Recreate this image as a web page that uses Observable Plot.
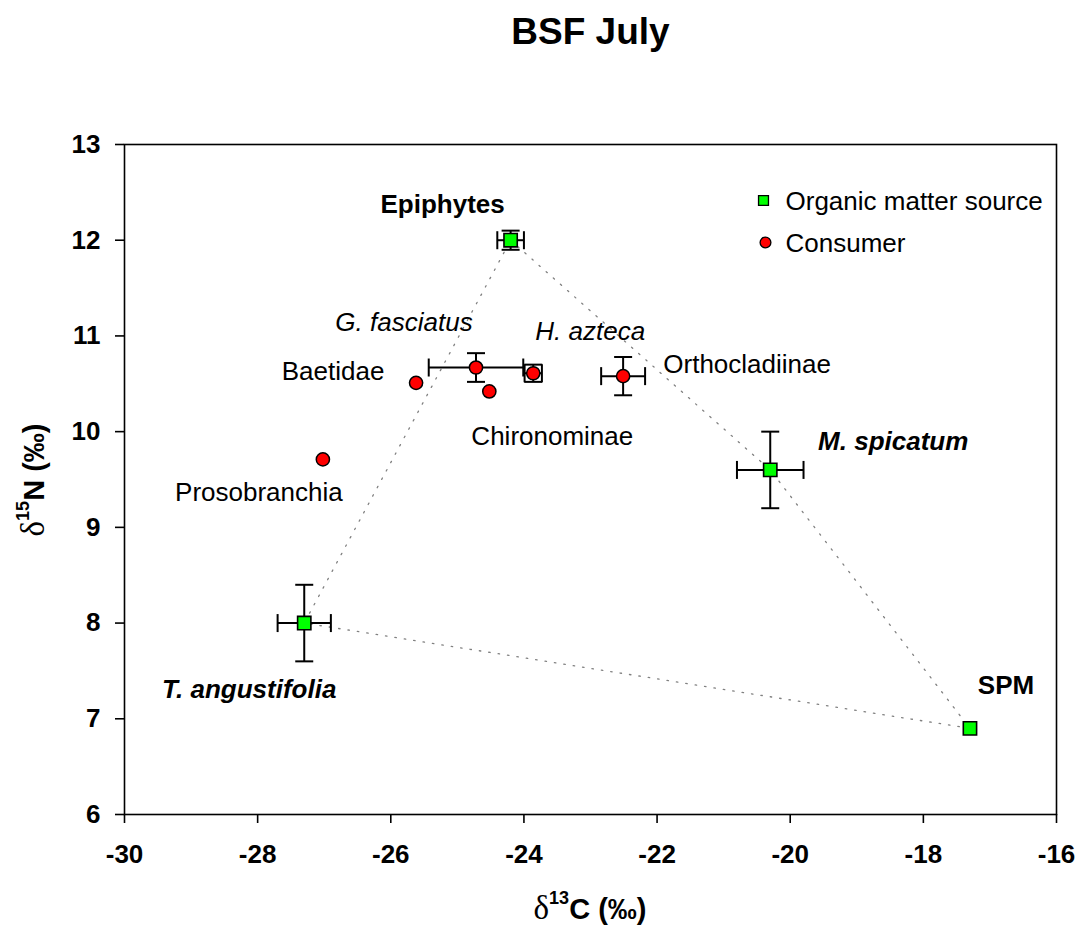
<!DOCTYPE html>
<html>
<head>
<meta charset="utf-8">
<script src="https://cdn.jsdelivr.net/npm/d3@7"></script>
<script src="https://cdn.jsdelivr.net/npm/@observablehq/plot@0.6"></script>
<style>
  html, body { margin: 0; padding: 0; background: #fff; }
  #chart svg { display: block; }
</style>
</head>
<body>
<div id="chart"></div>
<script>
// ---------- data ----------
const chartTitle = "BSF July";
const xTicks = [-30, -28, -26, -24, -22, -20, -18, -16];
const yTicks = [6, 7, 8, 9, 10, 11, 12, 13];

const sourceNames = ["Epiphytes", "M. spicatum", "SPM", "T. angustifolia"];
const sourceC     = [-24.2, -20.3, -17.3, -27.3];
const sourceN     = [12.0, 9.6, 6.9, 8.0];
const sourceCsd   = [0.2, 0.5, 0, 0.4];
const sourceNsd   = [0.1, 0.4, 0, 0.4];

const consumerNames = ["Baetidae", "G. fasciatus", "Chironominae", "H. azteca", "Orthocladiinae", "Prosobranchia"];
const consumerC     = [-25.62, -24.72, -24.52, -23.86, -22.51, -27.02];
const consumerN     = [10.51, 10.67, 10.42, 10.61, 10.58, 9.71];
const consumerCsd   = [0, 0.71, 0, 0.13, 0.33, 0];
const consumerNsd   = [0, 0.15, 0, 0.09, 0.2, 0];

// mixing polygon order (source names)
const polygonOrder = ["Epiphytes", "M. spicatum", "SPM", "T. angustifolia", "Epiphytes"];

const legendLabels = ["Organic matter source", "Consumer"];

// ---------- styles ----------
const italicNames = new Set(["M. spicatum", "T. angustifolia", "G. fasciatus", "H. azteca"]);
const labelOffset = {
  "Epiphytes": [-68, -36], "M. spicatum": [123, -28], "SPM": [36, -43], "T. angustifolia": [-55, 67],
  "Baetidae": [-83, -11], "G. fasciatus": [-72, -45], "Chironominae": [63, 45],
  "H. azteca": [57, -42], "Orthocladiinae": [124, -11], "Prosobranchia": [-64, 33]
};
const FONT = "'Liberation Sans', Arial, Helvetica, sans-serif";
const GREEN = "#00ff00", RED = "#ff0000";
const FS = 26;

// ---------- tables ----------
const sources = sourceNames.map((name, i) => ({name, c: sourceC[i], n: sourceN[i], cs: sourceCsd[i], ns: sourceNsd[i], group: "source"}));
const consumers = consumerNames.map((name, i) => ({name, c: consumerC[i], n: consumerN[i], cs: consumerCsd[i], ns: consumerNsd[i], group: "consumer"}));
const all = sources.concat(consumers);
const polygon = polygonOrder.map(nm => sources.find(s => s.name === nm));
const xErr = all.filter(d => d.cs > 0);
const yErr = all.filter(d => d.ns > 0);

// cap symbols
const capH = {draw(ctx, size) { const r = Math.sqrt(size / Math.PI); ctx.moveTo(-r, 0); ctx.lineTo(r, 0); }};
const capV = {draw(ctx, size) { const r = Math.sqrt(size / Math.PI); ctx.moveTo(0, -r); ctx.lineTo(0, r); }};

const labelMarks = all.map(d => Plot.text([d], {
  x: "c", y: "n", text: "name",
  dx: labelOffset[d.name][0], dy: labelOffset[d.name][1],
  fontSize: FS,
  fontWeight: d.group === "source" ? "bold" : "normal",
  fontStyle: italicNames.has(d.name) ? "italic" : "normal",
  fill: "black", textAnchor: "middle", lineAnchor: "middle"
}));

const plot = Plot.plot({
  width: 1079,
  height: 935,
  marginLeft: 124,
  marginRight: 23,
  marginTop: 144,
  marginBottom: 121,
  style: {fontFamily: FONT, fontSize: FS + "px", background: "white", color: "black", overflow: "visible"},
  x: {domain: [-30, -16], label: null},
  y: {domain: [6, 13], label: null},
  marks: [
    Plot.line(polygon, {x: "c", y: "n", stroke: "#808080", strokeWidth: 1.3, strokeDasharray: "1.5,8"}),
    Plot.link(xErr, {x1: d => d.c - d.cs, x2: d => d.c + d.cs, y1: "n", y2: "n", stroke: "black", strokeWidth: 2}),
    Plot.link(yErr, {x1: "c", x2: "c", y1: d => d.n - d.ns, y2: d => d.n + d.ns, stroke: "black", strokeWidth: 2}),
    Plot.dot(xErr, {x: d => d.c - d.cs, y: "n", symbol: capV, r: 9, stroke: "black", strokeWidth: 2, fill: "none"}),
    Plot.dot(xErr, {x: d => d.c + d.cs, y: "n", symbol: capV, r: 9, stroke: "black", strokeWidth: 2, fill: "none"}),
    Plot.dot(yErr, {x: "c", y: d => d.n - d.ns, symbol: capH, r: 9, stroke: "black", strokeWidth: 2, fill: "none"}),
    Plot.dot(yErr, {x: "c", y: d => d.n + d.ns, symbol: capH, r: 9, stroke: "black", strokeWidth: 2, fill: "none"}),
    Plot.dot(sources, {x: "c", y: "n", symbol: "square", r: 7.5, fill: GREEN, stroke: "black", strokeWidth: 1.6}),
    Plot.dot(consumers, {x: "c", y: "n", symbol: "circle", r: 6.6, fill: RED, stroke: "black", strokeWidth: 1.5}),
    ...labelMarks,
    // legend
    Plot.dot([legendLabels[0]], {frameAnchor: "top-right", dx: -293, dy: 56, symbol: "square", r: 5.6, fill: GREEN, stroke: "black", strokeWidth: 1.3}),
    Plot.dot([legendLabels[1]], {frameAnchor: "top-right", dx: -291, dy: 98, symbol: "circle", r: 5.4, fill: RED, stroke: "black", strokeWidth: 1.3}),
    Plot.text([legendLabels[0]], {frameAnchor: "top-right", dx: -271, dy: 57, text: d => d, textAnchor: "start", lineAnchor: "middle", fontSize: FS, fill: "black"}),
    Plot.text([legendLabels[1]], {frameAnchor: "top-right", dx: -271, dy: 99, text: d => d, textAnchor: "start", lineAnchor: "middle", fontSize: FS, fill: "black"}),
    // title
    Plot.text([chartTitle], {frameAnchor: "top", dy: -112, text: d => d, lineAnchor: "middle", fontSize: 37, fontWeight: "bold", fill: "black"}),
    // axes and frame
    Plot.axisX({ticks: xTicks, tickSize: 9, tickPadding: 21, tickFormat: d => String(d), fontWeight: "bold", fontSize: FS, strokeWidth: 1.6, label: null}),
    Plot.axisY({ticks: yTicks, tickSize: 9, tickPadding: 15, tickFormat: d => String(d), fontWeight: "bold", fontSize: FS, strokeWidth: 1.6, label: null}),
    Plot.frame({stroke: "black", strokeWidth: 1.6})
  ]
});

document.getElementById("chart").appendChild(plot);

// axis titles with superscripts
const svg = d3.select(plot);
function axisTitle(g, sup, letter) {
  g.append("tspan").attr("font-family", "'Liberation Serif', 'Times New Roman', serif").attr("font-weight", "normal").attr("font-size", 33).text("δ");
  g.append("tspan").attr("font-size", 18).attr("dy", "-12").text(sup);
  g.append("tspan").attr("dy", "12").text(letter + " (‰)");
}
const xt = svg.append("text")
  .attr("x", 590).attr("y", 911).attr("text-anchor", "middle").attr("dominant-baseline", "middle")
  .attr("font-family", FONT).attr("font-weight", "bold").attr("font-size", 29).attr("fill", "black");
axisTitle(xt, "13", "C");
const yt = svg.append("text")
  .attr("transform", "translate(36,480) rotate(-90)").attr("text-anchor", "middle").attr("dominant-baseline", "middle")
  .attr("font-family", FONT).attr("font-weight", "bold").attr("font-size", 29).attr("fill", "black");
axisTitle(yt, "15", "N");
</script>
</body>
</html>
